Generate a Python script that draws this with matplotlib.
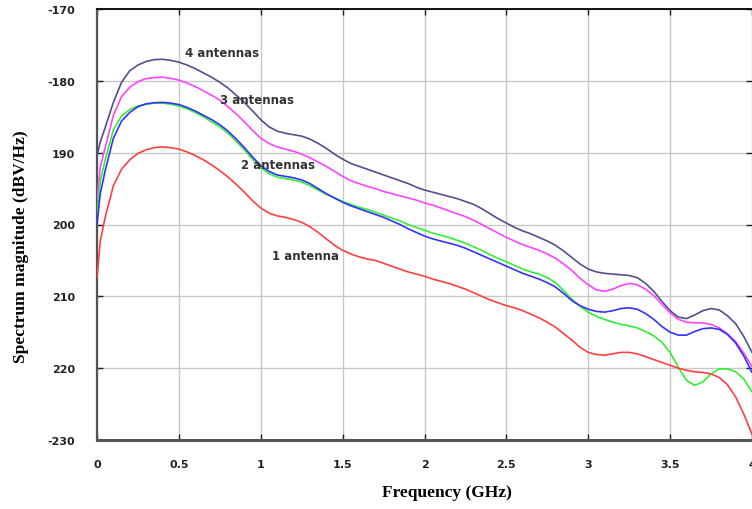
import numpy as np
import matplotlib
matplotlib.use("Agg")
import matplotlib.pyplot as plt

# ── Data ──────────────────────────────────────────────────────────────────────
freq = [0.0, 0.02, 0.05, 0.10, 0.15, 0.20, 0.25, 0.30, 0.35, 0.40, 0.45,
        0.50, 0.55, 0.60, 0.65, 0.70, 0.75, 0.80, 0.85, 0.90, 0.95,
        1.00, 1.05, 1.10, 1.15, 1.20, 1.25, 1.30, 1.35, 1.40, 1.45,
        1.50, 1.55, 1.60, 1.65, 1.70, 1.75, 1.80, 1.85, 1.90, 1.95,
        2.00, 2.05, 2.10, 2.15, 2.20, 2.25, 2.30, 2.35, 2.40, 2.45,
        2.50, 2.55, 2.60, 2.65, 2.70, 2.75, 2.80, 2.85, 2.90, 2.95,
        3.00, 3.05, 3.10, 3.15, 3.20, 3.25, 3.30, 3.35, 3.40, 3.45,
        3.50, 3.55, 3.60, 3.65, 3.70, 3.75, 3.80, 3.85, 3.90, 3.95, 4.00]

ant4 = [-190.5, -188.5, -186.5, -183.0, -180.2, -178.6, -177.8, -177.3, -177.05, -177.0, -177.15,
        -177.4, -177.8, -178.3, -178.9, -179.5, -180.2, -181.0, -182.0, -183.0, -184.2,
        -185.4, -186.4, -187.0, -187.3, -187.5, -187.7, -188.1, -188.7, -189.4, -190.2,
        -190.9, -191.5, -191.9, -192.3, -192.7, -193.1, -193.5, -193.9, -194.3, -194.8,
        -195.2, -195.5, -195.8, -196.1, -196.4, -196.8, -197.2, -197.8, -198.5, -199.2,
        -199.8, -200.4, -200.9, -201.3, -201.8, -202.3, -202.9, -203.7, -204.6, -205.5,
        -206.2, -206.6, -206.8, -206.9, -207.0, -207.1, -207.4, -208.2, -209.3, -210.7,
        -212.0, -212.9, -213.1, -212.6, -212.0, -211.7, -211.9, -212.7, -213.8, -215.6, -217.8]

ant3 = [-196.5, -192.0, -189.3, -184.8, -182.2, -180.9, -180.1, -179.7, -179.55, -179.5, -179.65,
        -179.9, -180.3, -180.8, -181.4, -182.0, -182.7, -183.6, -184.6, -185.7, -186.9,
        -188.0, -188.7, -189.2, -189.5, -189.8, -190.2, -190.7, -191.3, -191.9, -192.6,
        -193.3, -193.9, -194.3, -194.7, -195.0, -195.4, -195.7, -196.0, -196.3, -196.6,
        -197.0, -197.3, -197.7, -198.1, -198.5, -198.9, -199.4, -200.0, -200.6, -201.2,
        -201.8, -202.3, -202.8, -203.2, -203.6, -204.1, -204.7, -205.5, -206.4, -207.5,
        -208.4, -209.1, -209.3, -209.0, -208.5, -208.2, -208.4, -209.0, -209.9, -211.1,
        -212.3, -213.2, -213.6, -213.7, -213.7, -213.9, -214.4, -215.2, -216.3, -217.9, -219.8]

ant2_blue = [-200.0, -195.7, -192.5, -188.0, -185.6, -184.4, -183.6, -183.2, -183.05, -183.0, -183.1,
             -183.3, -183.7, -184.2, -184.8, -185.4, -186.1, -187.0, -188.1, -189.3, -190.6,
             -191.8, -192.6, -193.1, -193.3, -193.5, -193.8, -194.3, -195.0, -195.7, -196.3,
             -196.9, -197.4, -197.8, -198.2, -198.6, -199.0, -199.5, -200.0, -200.6, -201.1,
             -201.6, -202.0, -202.3, -202.6, -202.9, -203.3, -203.8, -204.3, -204.8, -205.3,
             -205.8, -206.3, -206.8, -207.2, -207.6, -208.1, -208.7, -209.6, -210.6, -211.3,
             -211.8, -212.1, -212.2, -212.0, -211.7, -211.6, -211.8, -212.4, -213.2, -214.2,
             -215.0, -215.4, -215.4, -214.9, -214.5, -214.4, -214.6, -215.3, -216.5, -218.3, -220.6]

ant2_green = [-198.5, -194.0, -191.0, -186.8, -184.9, -184.0, -183.5, -183.25, -183.1, -183.1, -183.25,
              -183.5, -183.9, -184.4, -185.0, -185.7, -186.4, -187.3, -188.4, -189.6, -190.9,
              -192.1, -192.9, -193.4, -193.6, -193.8, -194.1, -194.6, -195.2, -195.8, -196.3,
              -196.8, -197.2, -197.6, -197.9, -198.3, -198.7, -199.1, -199.5, -200.0, -200.4,
              -200.8, -201.2, -201.5, -201.8, -202.2, -202.6, -203.1, -203.6, -204.2, -204.7,
              -205.2, -205.7, -206.2, -206.6, -206.9, -207.4, -208.1, -209.2, -210.4, -211.4,
              -212.2, -212.8, -213.2, -213.6, -213.9, -214.1, -214.4, -214.9, -215.5, -216.4,
              -217.8, -219.9, -221.7, -222.4, -221.9, -220.8, -220.1, -220.1, -220.5, -221.5, -223.3]

ant1 = [-207.5, -202.3, -199.0, -194.6, -192.3, -191.0, -190.1, -189.6, -189.3, -189.2, -189.3,
        -189.5, -189.9, -190.4, -191.0, -191.7, -192.5, -193.4, -194.4, -195.5, -196.7,
        -197.7, -198.4, -198.8, -199.0, -199.3, -199.7, -200.3, -201.1, -202.0, -202.9,
        -203.6, -204.1, -204.5, -204.8, -205.0, -205.4, -205.8, -206.2, -206.6, -206.9,
        -207.2, -207.6, -207.9, -208.2, -208.6, -209.0, -209.5, -210.0, -210.5, -210.9,
        -211.3, -211.6, -212.0, -212.5, -213.0, -213.6, -214.3, -215.2, -216.1, -217.1,
        -217.8, -218.1, -218.2, -218.0, -217.8, -217.8, -218.0, -218.4, -218.8, -219.2,
        -219.6, -220.0, -220.3, -220.5, -220.6, -220.8, -221.3, -222.3, -224.0, -226.4, -229.2]

x_ticks = [0, 0.5, 1, 1.5, 2, 2.5, 3, 3.5, 4]
x_tick_labels = ["0", "0.5", "1", "1.5", "2", "2.5", "3", "3.5", "4"]
y_ticks = [-170, -180, -190, -200, -210, -220, -230]
y_tick_labels = ["-170", "-180", "190", "200", "210", "220", "-230"]

labels = ["4 antennas", "3 antennas", "2 antennas", "1 antenna"]
label_pos = [(0.54, -176.0), (0.75, -182.6), (0.88, -191.7), (1.07, -204.3)]

# ── Figure ────────────────────────────────────────────────────────────────────
fig = plt.figure(figsize=(7.52, 5.10), dpi=100)
ax = fig.add_axes([97 / 752, 69 / 510, 655 / 752, 431 / 510])

series = [
    (ant4, "#50508c"),
    (ant3, "#ff44ff"),
    (ant2_green, "#33ee33"),
    (ant2_blue, "#3333ff"),
    (ant1, "#ff4040"),
]
for vals, col in series:
    ax.plot(freq, vals, color=col, lw=1.2, solid_capstyle="round", zorder=3)

ax.set_xlim(0, 4)
ax.set_ylim(-230, -170)
ax.set_xticks(x_ticks)
ax.set_xticklabels(x_tick_labels)
ax.set_yticks(y_ticks)
ax.set_yticklabels(y_tick_labels)

for t in ax.get_xticklabels() + ax.get_yticklabels():
    t.set_fontfamily("DejaVu Sans")
    t.set_fontweight("bold")
    t.set_fontsize(8)
    t.set_color("#222222")

ax.tick_params(axis="both", direction="in", length=4, width=1, colors="#222222",
               top=True, right=True)
ax.tick_params(axis="x", pad=14)
ax.tick_params(axis="y", pad=16)

ax.grid(True, color="#c8c8c8", lw=1)
ax.set_axisbelow(True)

ax.spines["right"].set_visible(False)
ax.spines["top"].set_color("#111111")
ax.spines["top"].set_linewidth(1.4)
ax.spines["left"].set_color("#555555")
ax.spines["left"].set_linewidth(1.6)
ax.spines["bottom"].set_color("#555555")
ax.spines["bottom"].set_linewidth(2.2)

for txt, (lx, ly) in zip(labels, label_pos):
    ax.text(lx, ly, txt, fontsize=8.5, fontweight="bold", family="DejaVu Sans",
            color="#333333", ha="left", va="center", zorder=4)

ax.set_xlabel("Frequency (GHz)", family="Liberation Serif", fontweight="bold",
              fontsize=12.5)
ax.xaxis.set_label_coords((447 - 97) / 655, -44 / 431)
ax.set_ylabel("Spectrum magnitude (dBV/Hz)", family="Liberation Serif",
              fontweight="bold", fontsize=12.5)
ax.yaxis.set_label_coords(-68 / 655, 0.452)

fig.savefig("out.png", dpi=100)
